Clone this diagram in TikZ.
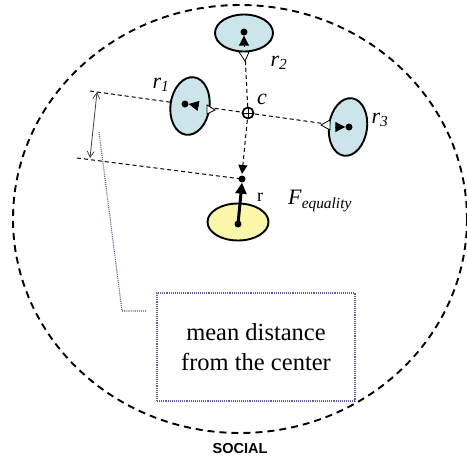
\documentclass[tikz,border=0pt]{standalone}
\usepackage{fontspec}
\setmainfont{Liberation Serif}
\newfontfamily\socialfont{Liberation Sans}
\usetikzlibrary{arrows.meta,shapes.geometric}
\definecolor{agentblue}{RGB}{204,229,234}
\definecolor{agentyellow}{RGB}{250,246,170}
\definecolor{leadblue}{RGB}{95,95,150}
\begin{document}
\begin{tikzpicture}[x=1pt,y=-1pt,
  agent/.style={ellipse,draw=black,line width=1.9pt,fill=agentblue,inner sep=0pt},
  dotnode/.style={circle,fill=black,inner sep=0pt,minimum size=7pt},
  guide/.style={line width=1pt,dash pattern=on 4pt off 3pt},
  innerarrow/.style={line width=1pt,-{Triangle[length=10pt,width=10pt]}},
  sight/.style={draw=black,fill=white,line width=0.8pt},
  lbl/.style={inner sep=0pt,font=\fontsize{22}{24}\selectfont}]
\useasboundingbox (0,0) rectangle (467,464);
% outer region
\draw[line width=1.9pt,dash pattern=on 7pt off 5pt] (240,219) ellipse [x radius=227, y radius=214];
\node[font=\socialfont\bfseries\fontsize{14.5}{16}\selectfont,inner sep=0pt] (social) at (240,449) {SOCIAL};
% coordinates
\coordinate (c) at (248,113);
\coordinate (L1) at (90,91);
\coordinate (L2) at (77,158);
\coordinate (rt) at (242,179);
% guide lines
\draw[guide] (L1) -- (c);
\draw[guide] (c) -- (348,127) coordinate (r3c);
\draw[guide] (244,33) -- (c);
\draw[guide,-{Triangle[length=9pt,width=9pt]}] (c) -- (242,174) coordinate (rtip);
\draw[guide] (L2) -- (rt);
% agents
\node[agent,minimum width=58pt,minimum height=37pt] (r2) at (244,33) {};
\node[agent,minimum width=39pt,minimum height=58pt,rotate=-8] (r1) at (190,106) {};
\node[agent,minimum width=38pt,minimum height=58pt,rotate=-8] (r3) at (348,127) {};
\node[ellipse,draw=black,line width=1.9pt,fill=agentyellow,minimum width=61pt,minimum height=37pt,inner sep=0pt] (ry) at (238,222) {};
% sight triangles
\draw[sight] (239,52) -- (249,52) -- (245,61) -- cycle;
\draw[sight] (207,105) -- (207,114) -- (215,110) -- cycle;
\draw[sight] (330,120) -- (330,130) -- (321,125) -- cycle;
% dots and inner arrows
\node[dotnode] (d2) at (244,32) {};
\node[dotnode] (d1) at (185,104) {};
\node[dotnode] (d3) at (349,127) {};
\node[dotnode] (dy) at (238,224) {};
\node[dotnode] (dr) at (rt) {};
\coordinate (a2) at (244,47);
\coordinate (a1) at (199,106);
\coordinate (a3) at (335,127);
\draw[innerarrow] (a2) -- (d2.south);
\draw[innerarrow] (a1) -- (d1.east);
\draw[innerarrow] (a3) -- (d3.west);
\draw[line width=3pt,-{Triangle[length=11pt,width=11pt]}] (dy.center) -- (dr.south);
% center c
\node[circle,draw=black,line width=1.8pt,fill=white,minimum size=11pt,inner sep=0pt] (cn) at (c) {};
\draw[line width=1pt] (cn.north) -- (cn.south) (cn.west) -- (cn.east);
% distance arrow
\coordinate (da) at (97,92);
\coordinate (db) at (90,158);
\draw[line width=0.8pt,black!75,{Straight Barb[length=6pt,width=7pt]}-{Straight Barb[length=6pt,width=7pt]}] (da) -- (db);
% lead line and box
\node[draw=leadblue,densely dotted,line width=1.1pt,minimum width=198pt,minimum height=108pt,inner sep=0pt,align=center,font=\fontsize{24.5}{30}\selectfont] (box) at (256,347) {mean distance\\from the center};
\coordinate (lead0) at (99,132);
\coordinate (lead1) at (122,311);
\coordinate (lead2) at (146,311);
\draw[leadblue,densely dotted,line width=1.1pt] (lead0) -- (lead1) -- (lead2);
% labels
\node[lbl] (lr1) at (161,85) {\textit{r}\textsubscript{\textit{1}}};
\node[lbl] (lr2) at (279,63) {\textit{r}\textsubscript{\textit{2}}};
\node[lbl] (lr3) at (380,120) {\textit{r}\textsubscript{\textit{3}}};
\node[lbl] (lc) at (262,99) {\textit{c}};
\node[inner sep=0pt,font=\fontsize{18}{20}\selectfont] (lr) at (260,197) {r};
\node[lbl] (lf) at (320,201) {\textit{F}\textsubscript{\textit{equality}}};
\end{tikzpicture}
\end{document}
